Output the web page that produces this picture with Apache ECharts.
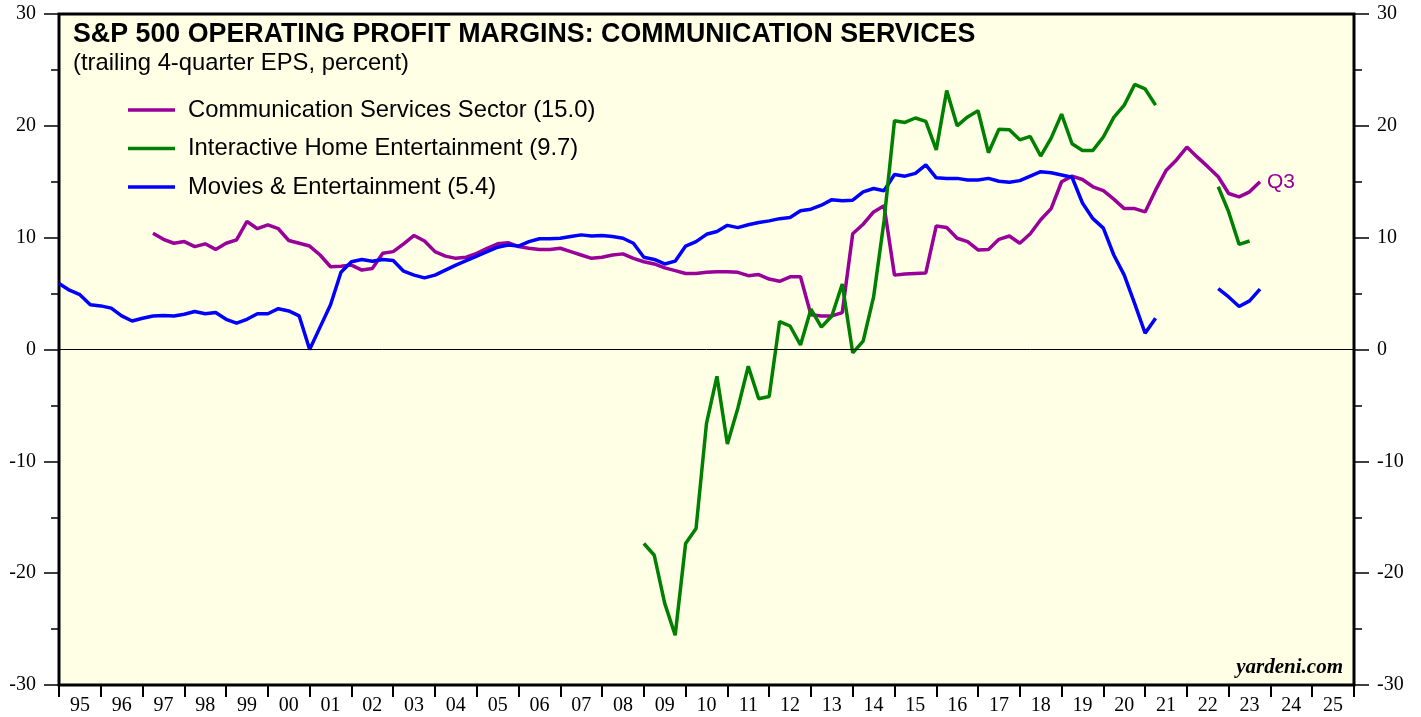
<!DOCTYPE html>
<html>
<head>
<meta charset="utf-8">
<script src="https://cdn.jsdelivr.net/npm/echarts@6/dist/echarts.min.js"></script>
<style>
  html, body { margin: 0; padding: 0; background: #fff; }
  #chart { width: 1421px; height: 717px; }
</style>
</head>
<body>
<div id="chart"></div>
<script>
// quarterly points, first one at 1995.0, step of one quarter
var startYear = 1995;
var yearLabels = ['95', '96', '97', '98', '99', '00', '01', '02', '03', '04', '05', '06', '07', '08', '09', '10',
  '11', '12', '13', '14', '15', '16', '17', '18', '19', '20', '21', '22', '23', '24', '25'];

var commServices = [
  null, null, null, null, null, null, null, null, null, 10.4,
  9.85, 9.5, 9.65, 9.2, 9.45, 8.95, 9.5, 9.8, 11.45, 10.8,
  11.15, 10.8, 9.75, 9.5, 9.25, 8.45, 7.4, 7.45, 7.55, 7.1,
  7.25, 8.6, 8.75, 9.45, 10.2, 9.7, 8.75, 8.35, 8.15, 8.25,
  8.6, 9.05, 9.45, 9.55, 9.2, 9.05, 8.95, 8.95, 9.05, 8.75,
  8.45, 8.15, 8.25, 8.45, 8.55, 8.15, 7.85, 7.65, 7.3, 7.05,
  6.8, 6.8, 6.9, 6.95, 6.95, 6.9, 6.6, 6.7, 6.3, 6.1,
  6.5, 6.5, 3.1, 3.0, 3.0, 3.3, 10.35, 11.2, 12.3, 12.85,
  6.65, 6.75, 6.8, 6.85, 11.05, 10.9, 9.95, 9.65, 8.9, 8.95,
  9.85, 10.15, 9.5, 10.35, 11.6, 12.6, 15.0, 15.5, 15.2, 14.55,
  14.2, 13.45, 12.6, 12.6, 12.3, 14.25, 16.0, 16.95, 18.1, 17.2,
  16.35, 15.45, 13.95, 13.65, 14.1, 15.0
];

var homeEntertainment = [
  null, null, null, null, null, null, null, null, null, null,
  null, null, null, null, null, null, null, null, null, null,
  null, null, null, null, null, null, null, null, null, null,
  null, null, null, null, null, null, null, null, null, null,
  null, null, null, null, null, null, null, null, null, null,
  null, null, null, null, null, null, -17.35, -18.4, -22.7, -25.55,
  -17.35, -16.0, -6.6, -2.4, -8.45, -5.25, -1.5, -4.4, -4.2, 2.5,
  2.1, 0.4, 3.6, 2.0, 3.0, 5.85, -0.3, 0.75, 4.7, 11.5,
  20.45, 20.3, 20.7, 20.4, 17.85, 23.15, 20.0, 20.8, 21.35, 17.6,
  19.7, 19.65, 18.75, 19.05, 17.3, 18.9, 21.05, 18.4, 17.8, 17.8,
  19.0, 20.75, 21.85, 23.7, 23.3, 21.85, null, null, null, null,
  null, 14.55, 12.3, 9.4, 9.7, null
];

var moviesEntertainment = [
  5.9, 5.3, 4.9, 4.0, 3.9, 3.7, 3.0, 2.55, 2.8, 3.0,
  3.05, 3.0, 3.15, 3.4, 3.2, 3.3, 2.7, 2.35, 2.7, 3.2,
  3.2, 3.65, 3.45, 3.0, 0.0, 2.0, 4.0, 6.9, 7.85, 8.05,
  7.9, 8.05, 7.95, 7.0, 6.65, 6.4, 6.65, 7.1, 7.55, 7.95,
  8.35, 8.75, 9.15, 9.35, 9.25, 9.65, 9.9, 9.9, 9.95, 10.1,
  10.25, 10.15, 10.2, 10.1, 9.95, 9.5, 8.25, 8.05, 7.65, 7.9,
  9.25, 9.65, 10.3, 10.55, 11.1, 10.9, 11.15, 11.35, 11.5, 11.7,
  11.8, 12.4, 12.55, 12.9, 13.4, 13.3, 13.35, 14.1, 14.4, 14.2,
  15.65, 15.5, 15.75, 16.5, 15.35, 15.3, 15.3, 15.15, 15.15, 15.3,
  15.05, 14.95, 15.1, 15.5, 15.9, 15.8, 15.6, 15.4, 13.1, 11.7,
  10.85, 8.45, 6.65, 4.1, 1.45, 2.8, null, null, null, null,
  null, 5.45, 4.7, 3.85, 4.35, 5.4
];

function toPoints (values) {
  return values.map(function (v, i) {
    return [startYear + i * 0.25, v];
  });
}

var labelFont = 'Liberation Serif';
var textFont = 'Liberation Sans';

var myChart = echarts.init(document.getElementById('chart'));

var yAxisBase = {
  type: 'value',
  min: -30,
  max: 30,
  interval: 10,
  axisLine: { show: false },
  axisTick: { show: true, length: 15, lineStyle: { color: '#000', width: 1.5 } },
  minorTick: { show: true, splitNumber: 2, length: 8, lineStyle: { color: '#000', width: 1.5 } },
  splitLine: { show: false },
  axisLabel: { color: '#000', fontFamily: labelFont, fontSize: 20, margin: 23 }
};

var option = {
  animation: false,
  backgroundColor: '#fff',
  color: ['#990099', '#008000', '#0000ff'],
  title: [{
    text: 'S&P 500 OPERATING PROFIT MARGINS: COMMUNICATION SERVICES',
    subtext: '(trailing 4-quarter EPS, percent)',
    left: 73,
    top: 21,
    padding: 0,
    itemGap: 3,
    textStyle: { fontFamily: textFont, fontWeight: 'bold', fontSize: 26.8, color: '#000' },
    subtextStyle: { fontFamily: textFont, fontSize: 23.8, color: '#000' }
  }, {
    text: 'yardeni.com',
    right: 78,
    top: 657,
    padding: 0,
    textStyle: { fontFamily: labelFont, fontStyle: 'italic', fontWeight: 'bold', fontSize: 21, color: '#000' }
  }],
  legend: {
    orient: 'vertical',
    left: 128,
    top: 98,
    padding: 0,
    itemWidth: 47,
    itemHeight: 3.5,
    itemGap: 14.5,
    icon: 'rect',
    textStyle: { fontFamily: textFont, fontSize: 23.8, color: '#000', padding: [0, 0, 0, 8] }
  },
  grid: {
    left: 59,
    right: 67,
    top: 14,
    bottom: 32,
    show: true,
    backgroundColor: '#ffffe6',
    borderColor: '#000',
    borderWidth: 3
  },
  xAxis: [{
    type: 'value',
    min: 1995,
    max: 2026,
    show: false
  }, {
    type: 'category',
    data: yearLabels,
    boundaryGap: true,
    position: 'bottom',
    axisLine: { show: false, onZero: false },
    axisTick: { show: true, length: 12, lineStyle: { color: '#000', width: 2 } },
    axisLabel: { color: '#000', fontFamily: labelFont, fontSize: 20, margin: 11 },
    splitLine: { show: false }
  }],
  yAxis: [
    Object.assign({}, yAxisBase, { position: 'left' }),
    Object.assign({}, yAxisBase, { position: 'right' })
  ],
  series: [{
    name: 'Communication Services Sector (15.0)',
    type: 'line',
    xAxisIndex: 0,
    showSymbol: false,
    symbol: 'none',
    lineStyle: { width: 3.5 },
    data: toPoints(commServices),
    endLabel: {
      show: true,
      formatter: 'Q3',
      color: '#990099',
      fontFamily: textFont,
      fontSize: 21,
      distance: 7
    },
    markLine: {
      silent: true,
      symbol: 'none',
      label: { show: false },
      lineStyle: { color: '#000', width: 1, type: 'solid' },
      data: [{ yAxis: 0 }]
    },
    z: 3
  }, {
    name: 'Interactive Home Entertainment (9.7)',
    type: 'line',
    xAxisIndex: 0,
    showSymbol: false,
    symbol: 'none',
    lineStyle: { width: 3.5 },
    data: toPoints(homeEntertainment),
    z: 4
  }, {
    name: 'Movies & Entertainment (5.4)',
    type: 'line',
    xAxisIndex: 0,
    showSymbol: false,
    symbol: 'none',
    lineStyle: { width: 3.5 },
    data: toPoints(moviesEntertainment),
    z: 3
  }]
};

myChart.setOption(option);

window.addEventListener('resize', function () {
  myChart.resize();
});
</script>
</body>
</html>
